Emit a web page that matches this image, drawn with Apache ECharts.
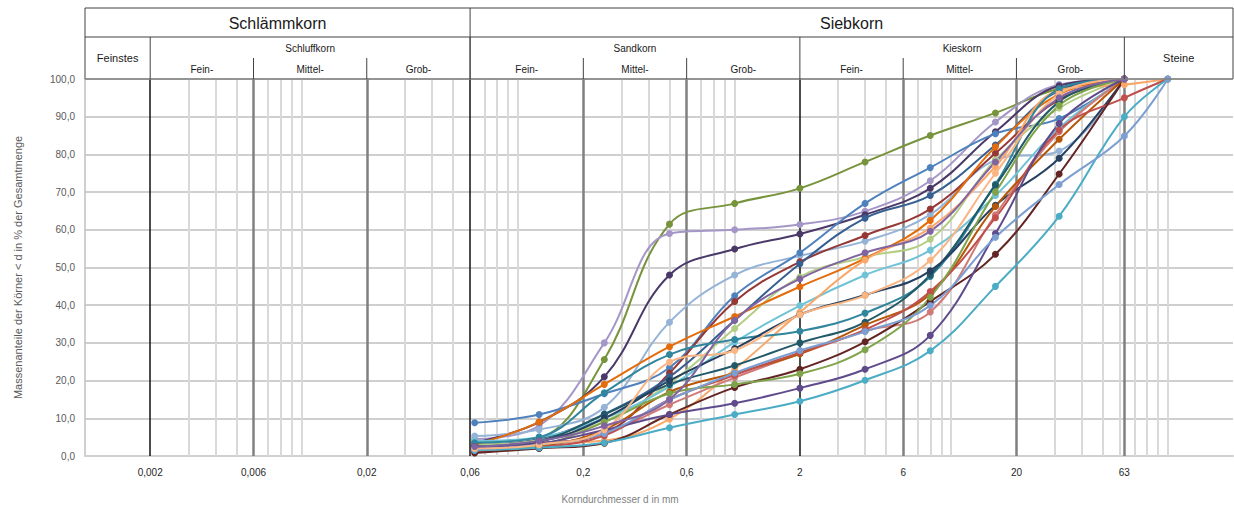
<!DOCTYPE html>
<html><head><meta charset="utf-8">
<script src="https://cdn.jsdelivr.net/npm/echarts@6/dist/echarts.min.js"></script>
<style>html,body{margin:0;padding:0;background:#fff}#c{width:1234px;height:509px}</style>
</head><body><div id="c"></div>
<script>
// sieve sizes (mm)
const sieveSizes = [0.063, 0.125, 0.25, 0.5, 1, 2, 4, 8, 16, 31.5, 63, 100];
// x-axis tick labels
const tickValues = [0.002, 0.006, 0.02, 0.06, 0.2, 0.6, 2, 6, 20, 63];
const tickLabels = ['0,002', '0,006', '0,02', '0,06', '0,2', '0,6', '2', '6', '20', '63'];
const blackLines = [0.002, 0.06, 2];
const grayLines = [0.006, 0.02, 0.2, 0.6, 6, 20, 63];
// header classification
const groupTop = [{name: 'Schlämmkorn', from: 0.001, to: 0.06}, {name: 'Siebkorn', from: 0.06, to: 200}];
const groupMid = [{name: 'Feinstes', from: 0.001, to: 0.002, full: true}, {name: 'Schluffkorn', from: 0.002, to: 0.06},
  {name: 'Sandkorn', from: 0.06, to: 2}, {name: 'Kieskorn', from: 2, to: 63}, {name: 'Steine', from: 63, to: 200, full: true}];
const groupSub = [{name: 'Fein-', from: 0.002, to: 0.006}, {name: 'Mittel-', from: 0.006, to: 0.02}, {name: 'Grob-', from: 0.02, to: 0.06},
  {name: 'Fein-', from: 0.06, to: 0.2}, {name: 'Mittel-', from: 0.2, to: 0.6}, {name: 'Grob-', from: 0.6, to: 2},
  {name: 'Fein-', from: 2, to: 6}, {name: 'Mittel-', from: 6, to: 20}, {name: 'Grob-', from: 20, to: 63}];

// passing percentages per sample at the sieve sizes
const s01 = [2.5, 4.5, 25.6, 61.5, 67, 71, 78, 85, 91, 97.5, 100, null];
const s02 = [4.5, 8, 30, 59, 60, 61.4, 64.9, 73, 88.6, 98.5, 100, null];
const s03 = [3.5, 9, 21, 48, 54.9, 58.9, 64, 71, 86, 98.2, 100, null];
const s04 = [5.3, 7, 12.9, 35.5, 48, 53.1, 57, 64, 78.5, 80.9, 100, null];
const s05 = [8.8, 11, 16.5, 23.4, 42.5, 53.9, 67, 76.5, 85.5, 89.5, 100, null];
const s06 = [2, 3.4, 6, 22, 41, 51.5, 58.5, 65.5, 80.3, 94.5, 100, null];
const s07 = [3, 4.5, 11.1, 21, 36, 51, 63.1, 69.1, 82.5, 97, 100, null];
const s08 = [3, 4.2, 9.2, 19.2, 33.8, 47.5, 52.8, 57.5, 78.5, 92.3, 100, null];
const s09 = [3, 9, 19, 29, 37, 44.9, 52.4, 62.5, 82, 96, 100, null];
const s10 = [4, 5, 10, 18.4, 30.2, 39.9, 48, 54.6, 69.1, 87, 100, null];
const s11 = [2, 3.3, 4.1, 9.8, 23, 38.1, 52, 60.5, 76.8, 97, 98.5, 100];
const s12 = [3.5, 5, 16.8, 26.9, 30.9, 33.1, 37.9, 47.6, 72.1, 97.4, 100, null];
const s13 = [2.5, 4, 11, 19, 24, 30, 35.5, 48, 71.8, 94, 100, null];
const s14 = [2.5, 3.8, 10, 20, 28.5, 37.5, 42.7, 49.1, 66.5, 79, 100, null];
const s15 = [2, 3, 6, 13.6, 20.8, 27.1, 33.1, 38.2, 64, 86, 100, null];
const s16 = [1.5, 2.5, 7, 17, 22, 27.1, 34.7, 43, 66.2, 84, 100, null];
const s17 = [1.2, 2.3, 5.4, 15, 21.5, 27.5, 33.5, 43.6, 63.2, 86.5, 95, 100];
const s18 = [0.8, 2, 3.4, 11, 18.2, 23, 30.3, 41, 53.5, 74.8, 100, null];
const s19 = [1.6, 2.8, 9, 16.6, 19, 21.8, 28.2, 42.1, 70, 93, 100, null];
const s20 = [2.2, 3.3, 6.9, 11, 14, 18, 23, 32, 59, 88.2, 100, null];
const s21 = [1.5, 2.2, 3.5, 7.5, 11, 14.5, 20.1, 27.9, 45, 63.6, 90, 100];
const s22 = [1.8, 3, 6, 14.9, 22, 28, 33, 39.9, 58, 72, 84.9, 100];
const s23 = [2, 3, 7, 24.9, 28, 37.5, 42.6, 51.9, 75, 96, 100, null];
const s24 = [2.5, 4, 8, 15, 36, 47, 53.9, 59.6, 78, 95, 100, null];

const sampleValues = [s01, s02, s03, s04, s05, s06, s07, s08, s09, s10, s11, s12, s13, s14, s15, s16, s17, s18, s19, s20, s21, s22, s23, s24];
const sampleColors = ['#77933C', '#A596C8', '#4A3968', '#95B3D7', '#4F81BD', '#953735', '#376092', '#B3CE84', '#E46C0A',
  '#70C3D6', '#F9A86A', '#31859C', '#215968', '#254061', '#D07A78', '#B65708', '#C0504D', '#632523', '#7FA34A',
  '#5F4B8B', '#4BACC6', '#7C9FD3', '#FAB583', '#8064A2'];

function fmtX(v) {
  let best = 0, bd = Infinity;
  tickValues.forEach((t, i) => { const d = Math.abs(Math.log(v / t)); if (d < bd) { bd = d; best = i; } });
  return tickLabels[best];
}
const minorLines = [];
for (let k = -3; k <= 2; k++) for (let n = 1; n <= 9; n++) {
  const v = +(n * Math.pow(10, k)).toPrecision(6);
  if (v > 0.001 && v < 200 && !blackLines.includes(v) && !grayLines.includes(v)) minorLines.push(v);
}

const chart = echarts.init(document.getElementById('c'), null, {renderer: 'svg'});
const font = '"Liberation Sans", Arial, sans-serif';
const series = [{
  type: 'line', data: [], silent: true,
  markLine: {
    silent: true, symbol: 'none', z: 1, precision: 8, label: {show: false}, animation: false,
    data: [
      ...minorLines.map(v => ({xAxis: v, lineStyle: {color: '#D9D9D9', width: 2, type: 'solid'}})),
      ...grayLines.map(v => ({xAxis: v, lineStyle: {color: '#808080', width: 2.5, type: 'solid'}})),
      ...blackLines.map(v => ({xAxis: v, lineStyle: {color: '#111111', width: 1.5, type: 'solid'}}))
    ]
  }
}];
sampleValues.forEach((vals, i) => {
  series.push({
    type: 'line', name: 'Probe ' + (i + 1), smooth: 0.4, symbol: 'circle', symbolSize: 7,
    data: sieveSizes.map((x, j) => vals[j] == null ? null : [x, vals[j]]).filter(d => d),
    lineStyle: {width: 2, color: sampleColors[i]}, itemStyle: {color: sampleColors[i]},
    z: 3, animation: false
  });
});

chart.setOption({
  animation: false,
  grid: {left: 85, right: 1, top: 79, bottom: 50},
  xAxis: {
    type: 'log', logBase: 10, min: 0.001, max: 200,
    name: 'Korndurchmesser d in mm', nameLocation: 'middle', nameGap: 38,
    nameTextStyle: {color: '#7F7F7F', fontSize: 10, fontFamily: font, padding: [0, 78, 0, 0]},
    axisLine: {show: true, lineStyle: {color: '#D0D0D0', width: 2}},
    axisTick: {show: false, customValues: tickValues},
    axisLabel: {customValues: tickValues, formatter: fmtX, color: '#262626', fontSize: 10, fontFamily: font, margin: 11},
    splitLine: {show: false}
  },
  yAxis: {
    type: 'value', min: 0, max: 100, interval: 10,
    name: 'Massenanteile der Körner < d in % der Gesamtmenge', nameLocation: 'middle', nameGap: 62,
    nameTextStyle: {color: '#595959', fontSize: 11, fontFamily: font},
    axisLine: {show: true, lineStyle: {color: '#BFBFBF', width: 1.5}},
    axisTick: {show: false},
    axisLabel: {formatter: v => v.toFixed(1).replace('.', ','), color: '#595959', fontSize: 10, fontFamily: font, margin: 10},
    splitLine: {show: true, lineStyle: {color: '#BFBFBF', width: 1.5}}
  },
  series: series
});

// header table, positioned from the x axis
const px = v => chart.convertToPixel({xAxisIndex: 0}, v);
const gTop = chart.convertToPixel({yAxisIndex: 0}, 100);
const yA = 8, yB = 37, yC = 58, yD = gTop;
const xL = px(0.001), xR = px(200);
const g = [];
const ln = (x1, y1, x2, y2, c, w) => g.push({type: 'line', silent: true, z: 10, shape: {x1, y1, x2, y2}, style: {stroke: c || '#404040', lineWidth: w || 1}});
const tx = (x, y, text, size) => g.push({type: 'text', silent: true, z: 10, x, y,
  style: {text, fill: '#1A1A1A', font: size + 'px ' + font, align: 'center', verticalAlign: 'middle'}});
ln(xL, yA, xR, yA); ln(xL, yB, xR, yB); ln(xL, yA, xL, yD); ln(xR, yA, xR, yD); ln(xL, yD, xR, yD, '#808080', 1.5);
groupTop.forEach(gr => { const a = px(gr.from), b = px(gr.to); tx((a + b) / 2, (yA + yB) / 2 + 1, gr.name, 16); if (gr.from > 0.001) ln(a, yA, a, yD); });
groupMid.forEach(gr => { const a = px(gr.from), b = px(gr.to);
  if (gr.full) tx((a + b) / 2, (yB + yD) / 2, gr.name, 11); else tx((a + b) / 2, (yB + yC) / 2 + 1, gr.name, 10);
  if (gr.from > 0.001) ln(a, yB, a, yD); });
groupSub.forEach(gr => { const a = px(gr.from), b = px(gr.to); tx((a + b) / 2, (yC + yD) / 2 + 1, gr.name, 10);
  if (![0.002, 0.06, 2].includes(gr.from)) ln(a, yC, a, yD); });
chart.setOption({graphic: g});
</script></body></html>
